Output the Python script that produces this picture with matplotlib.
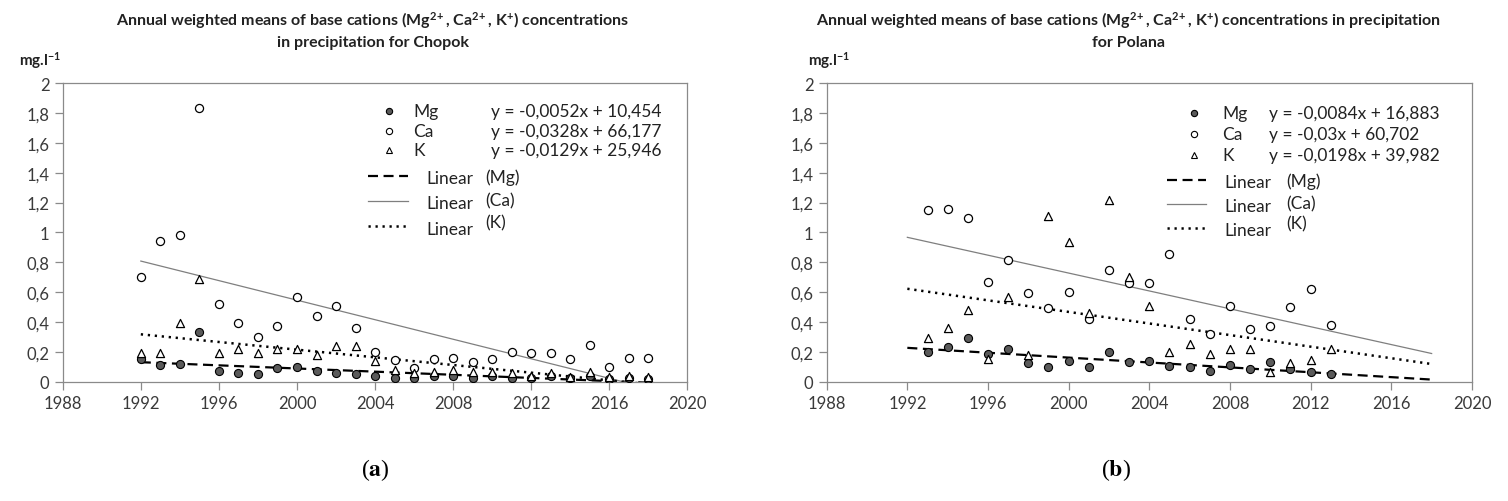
import matplotlib
matplotlib.use("Agg")
import matplotlib.pyplot as plt
import numpy as np

plt.rcParams['font.family'] = ['Lato', 'DejaVu Sans']
plt.rcParams['mathtext.fontset'] = 'custom'
plt.rcParams['mathtext.rm'] = 'Lato:bold'
plt.rcParams['mathtext.bf'] = 'Lato:bold'
plt.rcParams['mathtext.default'] = 'bf'

# Chopok, 1992-2018 (mg/l)
chopok_years = list(range(1992, 2019))
chopok_mg = [0.15, 0.11, 0.12, 0.33, 0.07, 0.06, 0.05, 0.09, 0.10, 0.07, 0.06, 0.05, 0.035, 0.022,
             0.027, 0.04, 0.036, 0.022, 0.04, 0.022, 0.024, 0.036, 0.022, 0.036, 0.018, 0.022, 0.018]
chopok_ca = [0.70, 0.94, 0.98, 1.83, 0.52, 0.39, 0.30, 0.37, 0.57, 0.44, 0.51, 0.36, 0.20, 0.147,
             0.091, 0.151, 0.16, 0.129, 0.149, 0.198, 0.189, 0.189, 0.149, 0.249, 0.10, 0.158, 0.158]
chopok_k = [0.19, 0.19, 0.39, 0.69, 0.19, 0.22, 0.19, 0.22, 0.22, 0.18, 0.24, 0.24, 0.14, 0.08,
            0.06, 0.067, 0.078, 0.067, 0.067, 0.058, 0.036, 0.058, 0.029, 0.062, 0.033, 0.036, 0.031]
chopok_eqs = ["y = -0,0052x + 10,454", "y = -0,0328x + 66,177", "y = -0,0129x + 25,946"]

# Polana, 1993-2013 (mg/l)
polana_years = list(range(1993, 2014))
polana_mg = [0.198, 0.235, 0.296, 0.184, 0.22, 0.127, 0.10, 0.142, 0.10, 0.20, 0.135, 0.14,
             0.107, 0.10, 0.073, 0.109, 0.084, 0.129, 0.084, 0.062, 0.051]
polana_ca = [1.153, 1.158, 1.098, 0.669, 0.813, 0.591, 0.491, 0.60, 0.42, 0.75, 0.66, 0.66,
             0.855, 0.42, 0.32, 0.51, 0.35, 0.375, 0.50, 0.62, 0.38]
polana_k = [0.29, 0.36, 0.48, 0.15, 0.567, 0.18, 1.11, 0.935, 0.46, 1.22, 0.70, 0.51,
            0.20, 0.25, 0.185, 0.22, 0.22, 0.067, 0.125, 0.145, 0.22]
polana_eqs = ["y = -0,0084x + 16,883", "y = -0,03x + 60,702", "y = -0,0198x + 39,982"]

trend_span = [1992, 2018]
series_names = ["Mg", "Ca", "K"]
x_ticks = list(range(1988, 2021, 4))
y_ticks = [round(v * 0.2, 1) for v in range(11)]

GRAY = '#8a8a8a'
MG_FILL = '#5a5a5a'
TXT = '#222222'


def panel(ax, years, mg, ca, k, eqs, rows, lx):
    xs = np.array(trend_span)
    # trend lines (least squares, like the spreadsheet "Linear" trendline)
    styles = [dict(color='black', lw=1.6, dashes=(4.5, 2.5)),
              dict(color='#7f7f7f', lw=0.9),
              dict(color='black', lw=1.8, dashes=(0.9, 1.9))]
    for vals, st in zip([mg, ca, k], styles):
        p = np.polyfit(years, vals, 1)
        ax.plot(xs, np.polyval(p, xs), zorder=2, **st)

    ax.scatter(years, mg, s=34, marker='o', facecolor=MG_FILL, edgecolor='black', lw=0.8, zorder=3)
    ax.scatter(years, ca, s=34, marker='o', facecolor='white', edgecolor='black', lw=0.9, zorder=3)
    ax.scatter(years, k, s=34, marker='^', facecolor='white', edgecolor='black', lw=0.9, zorder=3)

    ax.set_xlim(1988, 2020)
    ax.set_ylim(0, 2)
    ax.set_xticks(x_ticks)
    ax.set_yticks(y_ticks)
    ax.set_yticklabels([('%g' % v).replace('.', ',') for v in y_ticks])
    for s in ax.spines.values():
        s.set_color(GRAY)
        s.set_linewidth(0.9)
    ax.tick_params(direction='out', length=6, width=0.9, color=GRAY,
                   labelsize=12, labelcolor='#3a3a3a')

    # legend, drawn by hand like the spreadsheet one
    mx, tx, ex, l0, l1, linx, parx = lx
    tr = ax.transAxes
    fsz = 12.5
    mk = [dict(marker='o', mfc=MG_FILL, mec='black'),
          dict(marker='o', mfc='white', mec='black'),
          dict(marker='^', mfc='white', mec='black')]
    for i in range(3):
        ax.plot([mx], [rows[i]], transform=tr, ms=4.5, mew=0.8, ls='none', clip_on=False, **mk[i])
        ax.text(tx, rows[i], series_names[i], transform=tr, fontsize=fsz, va='center', color=TXT)
        ax.text(ex, rows[i], eqs[i], transform=tr, fontsize=fsz, va='center', color=TXT)
    raise_paren = [0.006, 0.01, 0.022]
    for i in range(3):
        r = rows[3 + i]
        ax.plot([l0, l1], [r, r], transform=tr, clip_on=False, **styles[i])
        ax.text(linx, r - 0.008, "Linear", transform=tr, fontsize=fsz, va='center', color=TXT)
        ax.text(parx, r - 0.008 + raise_paren[i], "(%s)" % series_names[i], transform=tr,
                fontsize=fsz, va='center', color=TXT)


fig = plt.figure(figsize=(15.08, 5.02), dpi=100)
ax1 = fig.add_axes([0.0416, 0.2376, 0.4143, 0.5950])
ax2 = fig.add_axes([0.5482, 0.2376, 0.4279, 0.5950])

panel(ax1, chopok_years, chopok_mg, chopok_ca, chopok_k, chopok_eqs,
      [0.905, 0.84, 0.775, 0.69, 0.605, 0.52],
      (0.522, 0.561, 0.686, 0.489, 0.552, 0.582, 0.676))
panel(ax2, polana_years, polana_mg, polana_ca, polana_k, polana_eqs,
      [0.90, 0.83, 0.76, 0.675, 0.595, 0.515],
      (0.57, 0.613, 0.685, 0.528, 0.588, 0.617, 0.712))

fig.text(373 / 1508, 1 - 30 / 502,
         r"Annual weighted means of base cations (Mg$^{2\!+}$, Ca$^{2\!+}$, K$^{+}$) concentrations"
         "\nin precipitation for Chopok",
         ha='center', va='center', fontsize=11.5, fontweight='bold', linespacing=1.45, color=TXT)
fig.text(1128 / 1508, 1 - 30 / 502,
         r"Annual weighted means of base cations (Mg$^{2\!+}$, Ca$^{2\!+}$, K$^{+}$) concentrations in precipitation"
         "\nfor Polana",
         ha='center', va='center', fontsize=11.5, fontweight='bold', linespacing=1.45, color=TXT)

fig.text(19 / 1508, 1 - 61 / 502, r"mg.l$^{-1}$", ha='left', va='center',
         fontsize=11, fontweight='bold', color=TXT)
fig.text(808 / 1508, 1 - 61 / 502, r"mg.l$^{-1}$", ha='left', va='center',
         fontsize=11, fontweight='bold', color=TXT)

fig.text(375 / 1508, 0.064, r"($\mathbf{a}$)", ha='center', va='center', fontsize=17,
         family='Liberation Serif', math_fontfamily='stix')
fig.text(1116 / 1508, 0.064, r"($\mathbf{b}$)", ha='center', va='center', fontsize=17,
         family='Liberation Serif', math_fontfamily='stix')

fig.savefig("out.png", dpi=100)
